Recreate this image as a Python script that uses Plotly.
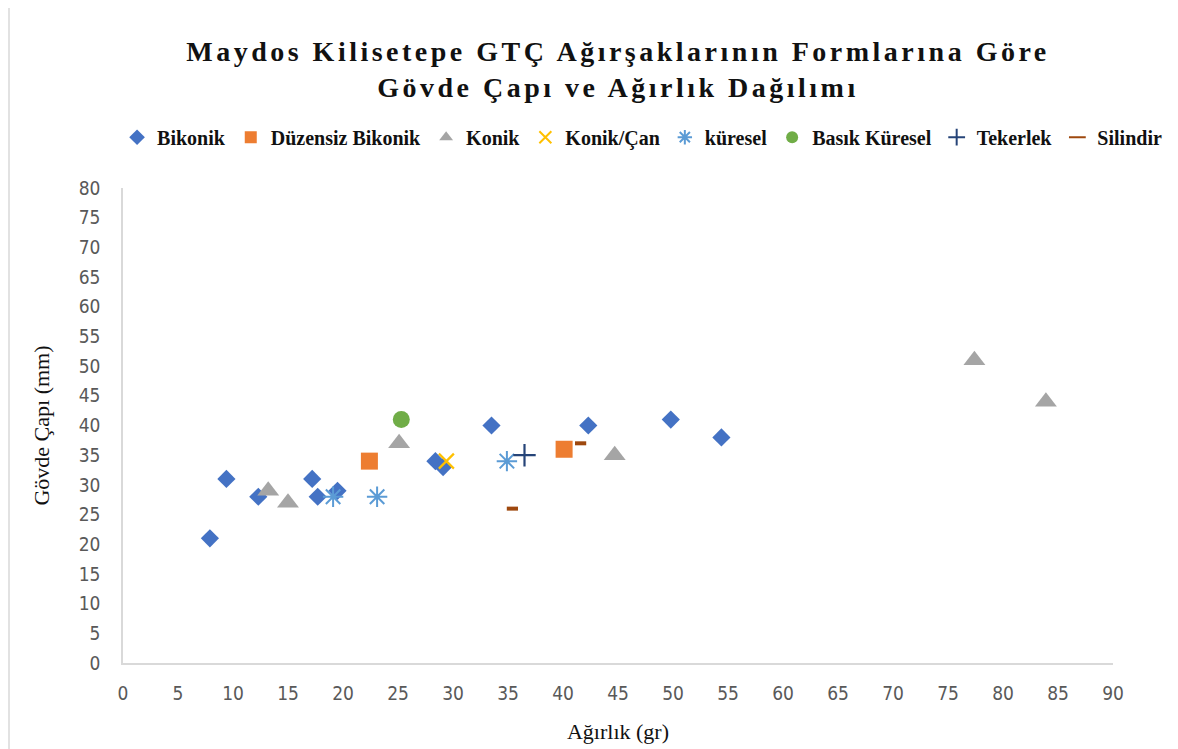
import plotly.graph_objects as go

# Verileri tiplere göre ayır (Ağırlık gr, Gövde çapı mm)
bikonik_x = [7.9, 9.4, 12.3, 17.2, 17.7, 19.5, 28.4, 29.1, 33.5, 42.3, 49.8, 54.4]
bikonik_y = [21, 31, 28, 31, 28, 29, 34, 33, 40, 40, 41, 38]
duzensiz_x = [22.4, 40.1]
duzensiz_y = [34, 36]
konik_x = [13.2, 15.0, 25.1, 44.7, 77.4, 83.9]
konik_y = [29, 27, 37, 35, 51, 44]
konik_can_x = [29.4]
konik_can_y = [34]
kuresel_x = [19.1, 23.1, 34.9]
kuresel_y = [28, 28, 34]
basik_x = [25.3]
basik_y = [41]
tekerlek_x = [36.5]
tekerlek_y = [35]
silindir_x = [35.4, 41.6]
silindir_y = [26, 37]

x_ticks = list(range(0, 95, 5))
y_ticks = list(range(0, 85, 5))

serif = "Liberation Serif, Times New Roman, serif"
narrow = "Liberation Sans Narrow, DejaVu Sans Condensed, sans-serif"

fig = go.Figure()

fig.add_trace(go.Scatter(x=bikonik_x, y=bikonik_y, mode="markers", name="Bikonik",
                         marker=dict(symbol="diamond", size=14, color="#4472C4")))
fig.add_trace(go.Scatter(x=duzensiz_x, y=duzensiz_y, mode="markers", name="Düzensiz Bikonik",
                         marker=dict(symbol="square", size=17, color="#ED7D31")))
fig.add_trace(go.Scatter(x=konik_x, y=konik_y, mode="markers", name="Konik",
                         marker=dict(symbol="triangle-up", size=19, color="#A5A5A5")))
fig.add_trace(go.Scatter(x=konik_can_x, y=konik_can_y, mode="markers", name="Konik/Çan",
                         marker=dict(symbol="x-thin-open", size=15, color="#FFC000",
                                     line=dict(width=2.2, color="#FFC000"))))
fig.add_trace(go.Scatter(x=kuresel_x, y=kuresel_y, mode="markers", name="küresel",
                         marker=dict(symbol="asterisk-open", size=17, color="#5B9BD5",
                                     line=dict(width=2, color="#5B9BD5"))))
fig.add_trace(go.Scatter(x=basik_x, y=basik_y, mode="markers", name="Basık Küresel",
                         marker=dict(symbol="circle", size=17, color="#70AD47")))
fig.add_trace(go.Scatter(x=tekerlek_x, y=tekerlek_y, mode="markers", name="Tekerlek",
                         marker=dict(symbol="cross-thin-open", size=16, color="#264478",
                                     line=dict(width=2.2, color="#264478"))))
fig.add_trace(go.Scatter(x=silindir_x, y=silindir_y, mode="markers", name="Silindir",
                         marker=dict(symbol="line-ew-open", size=8, color="#9E480E",
                                     line=dict(width=4, color="#9E480E"))))

# sayfa gövdesinin 8px kenar boşluğu nedeniyle boyutlar 8px küçük
fig.update_layout(
    width=1170, height=741,
    paper_bgcolor="white", plot_bgcolor="white",
    margin=dict(l=115, r=65, t=180, b=86),
    title=dict(text="<b>Maydos Kilisetepe GTÇ Ağırşaklarının Formlarına Göre<br>Gövde Çapı ve Ağırlık Dağılımı</b>",
               xref="paper", x=0.5, xanchor="center", y=1 - 53 / 741, yanchor="middle",
               font=dict(family=serif, size=28, color="#111111")),
    legend=dict(orientation="h", x=-0.006, xanchor="left", y=1.107, yanchor="middle",
                font=dict(family=serif, size=20, color="#111111", weight="bold"),
                itemsizing="constant", tracegroupgap=0),
    xaxis=dict(range=[0, 90], tickvals=x_ticks, showgrid=False, zeroline=False,
               showline=True, linecolor="#D9D9D9", linewidth=1.5, ticks="",
               ticklabelstandoff=12, automargin=False,
               tickfont=dict(family=narrow, size=19, color="#595959"),
               title=dict(text="Ağırlık (gr)", font=dict(family=serif, size=22, color="#111111"),
                          standoff=21)),
    yaxis=dict(range=[0, 80], tickvals=y_ticks, showgrid=False, zeroline=False,
               showline=True, linecolor="#D9D9D9", linewidth=1.5, ticks="",
               ticklabelstandoff=17, automargin=False,
               tickfont=dict(family=narrow, size=19, color="#595959"),
               title=dict(text="Gövde Çapı (mm)", font=dict(family=serif, size=22, color="#111111"),
                          standoff=23)),
)

# Grafik çerçevesi
fig.add_shape(type="rect", xref="paper", yref="paper",
              x0=-114 / 990, x1=1049 / 990, y0=-100 / 475, y1=658 / 475,
              line=dict(color="#D9D9D9", width=1.5), layer="below")

# başlıktaki harf aralığı
fig.write_html("out.html", post_script="document.querySelectorAll('.gtitle').forEach(function(e){e.style.letterSpacing='3.5px';});")
